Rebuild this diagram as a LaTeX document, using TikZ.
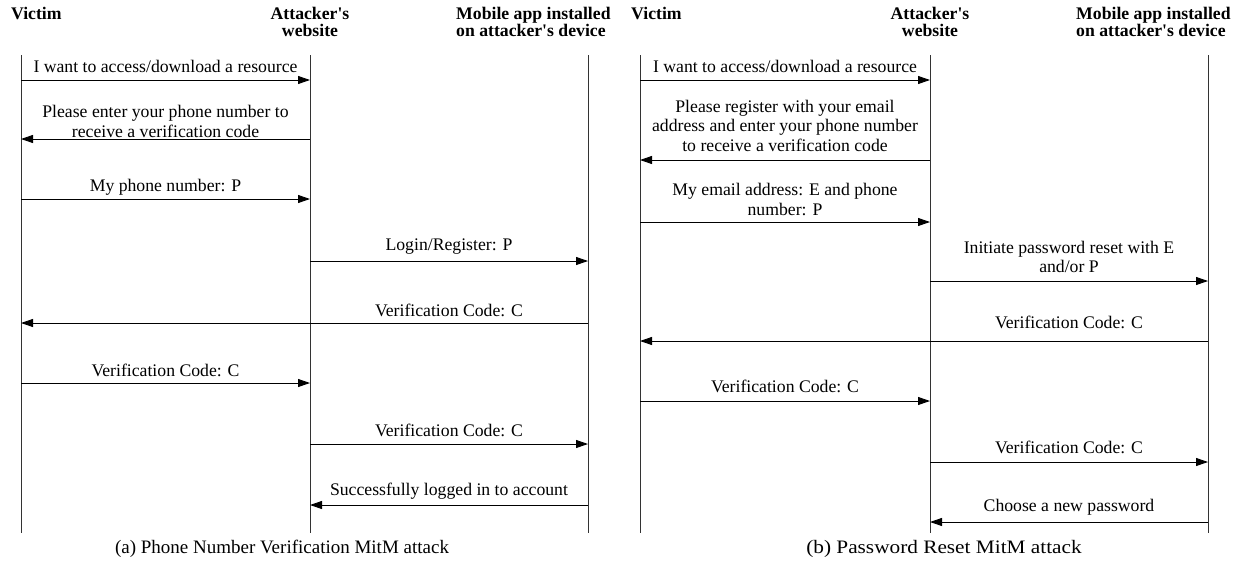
\documentclass[tikz,border=0pt]{standalone}
\usepackage{fontspec}
\setmainfont{Liberation Serif}[Ligatures=TeXOff]
\usetikzlibrary{arrows.meta}
\begin{document}
\begin{tikzpicture}[x=1pt,y=-1pt,
  lifeline/.style={draw=black!80, line width=0.9pt},
  msg/.style={draw=black, line width=0.9pt, -{Triangle[length=12pt,width=8pt]}},
  lbl/.style={font=\fontsize{17.7}{19.5}\selectfont, align=center, inner sep=0pt},
  hdr/.style={font=\fontsize{17.7}{17}\selectfont\bfseries, inner sep=0pt},
  captext/.style={font=\fontsize{19}{20}\selectfont, inner sep=0pt},
]
\useasboundingbox (0,0) rectangle (1235,560);

% ---------- left panel ----------
\node[hdr, anchor=west] (hv1) at (11,13) {Victim};
\node[hdr, align=center] (ha1) at (310,21.5) {Attacker's\\website};
\node[hdr, align=left, anchor=west] (hm1) at (456,21.5) {Mobile app installed\\on attacker's device};

\coordinate (v1t) at (21,55);  \coordinate (v1b) at (21,533);
\coordinate (a1t) at (310,55); \coordinate (a1b) at (310,533);
\coordinate (m1t) at (588,55); \coordinate (m1b) at (588,533);
\draw[lifeline] (v1t) -- (v1b);
\draw[lifeline] (a1t) -- (a1b);
\draw[lifeline] (m1t) -- (m1b);

\coordinate (p1) at (0,80);  \coordinate (p2) at (0,139);
\coordinate (p3) at (0,199); \coordinate (p4) at (0,261);
\coordinate (p5) at (0,323); \coordinate (p6) at (0,383);
\coordinate (p7) at (0,444); \coordinate (p8) at (0,505);

\node[lbl] (l1) at (165.5,66) {I want to access/download a resource};
\draw[msg] (v1t |- p1) -- (a1t |- p1);
\node[lbl] (l2) at (165.5,121.5) {Please enter your phone number to\\receive a verification code};
\draw[msg] (a1t |- p2) -- (v1t |- p2);
\node[lbl] (l3) at (165.5,187) {My phone number: P};
\draw[msg] (v1t |- p3) -- (a1t |- p3);
\node[lbl] (l4) at (449,247) {Login/Register: P};
\draw[msg] (a1t |- p4) -- (m1t |- p4);
\node[lbl] (l5) at (449,310) {Verification Code: C};
\draw[msg] (m1t |- p5) -- (v1t |- p5);
\node[lbl] (l6) at (165.5,370) {Verification Code: C};
\draw[msg] (v1t |- p6) -- (a1t |- p6);
\node[lbl] (l7) at (449,430) {Verification Code: C};
\draw[msg] (a1t |- p7) -- (m1t |- p7);
\node[lbl] (l8) at (449,491) {Successfully logged in to account};
\draw[msg] (m1t |- p8) -- (a1t |- p8);

\node[captext] (c1) at (282,549) {(a) Phone Number Verification MitM attack};

% ---------- right panel ----------
\node[hdr, anchor=west] (hv2) at (631,13) {Victim};
\node[hdr, align=center] (ha2) at (930,21.5) {Attacker's\\website};
\node[hdr, align=left, anchor=west] (hm2) at (1076,21.5) {Mobile app installed\\on attacker's device};

\coordinate (v2t) at (640,55);  \coordinate (v2b) at (640,533);
\coordinate (a2t) at (930,55);  \coordinate (a2b) at (930,533);
\coordinate (m2t) at (1208,55); \coordinate (m2b) at (1208,533);
\draw[lifeline] (v2t) -- (v2b);
\draw[lifeline] (a2t) -- (a2b);
\draw[lifeline] (m2t) -- (m2b);

\coordinate (q1) at (0,80);  \coordinate (q2) at (0,160);
\coordinate (q3) at (0,222); \coordinate (q4) at (0,281);
\coordinate (q5) at (0,341); \coordinate (q6) at (0,401);
\coordinate (q7) at (0,462); \coordinate (q8) at (0,522);

\node[lbl] (r1) at (785,66) {I want to access/download a resource};
\draw[msg] (v2t |- q1) -- (a2t |- q1);
\node[lbl] (r2) at (785,125.5) {Please register with your email\\address and enter your phone number\\to receive a verification code};
\draw[msg] (a2t |- q2) -- (v2t |- q2);
\node[lbl] (r3) at (785,199.5) {My email address: E and phone\\number: P};
\draw[msg] (v2t |- q3) -- (a2t |- q3);
\node[lbl] (r4) at (1069,257) {Initiate password reset with E\\and/or P};
\draw[msg] (a2t |- q4) -- (m2t |- q4);
\node[lbl] (r5) at (1069,322) {Verification Code: C};
\draw[msg] (m2t |- q5) -- (v2t |- q5);
\node[lbl] (r6) at (785,386) {Verification Code: C};
\draw[msg] (v2t |- q6) -- (a2t |- q6);
\node[lbl] (r7) at (1069,447) {Verification Code: C};
\draw[msg] (a2t |- q7) -- (m2t |- q7);
\node[lbl] (r8) at (1069,507) {Choose a new password};
\draw[msg] (m2t |- q8) -- (a2t |- q8);

\node[captext] (c2) at (944,549) {\scalebox{1.12}[1]{(b) Password Reset MitM attack}};
\end{tikzpicture}
\end{document}
